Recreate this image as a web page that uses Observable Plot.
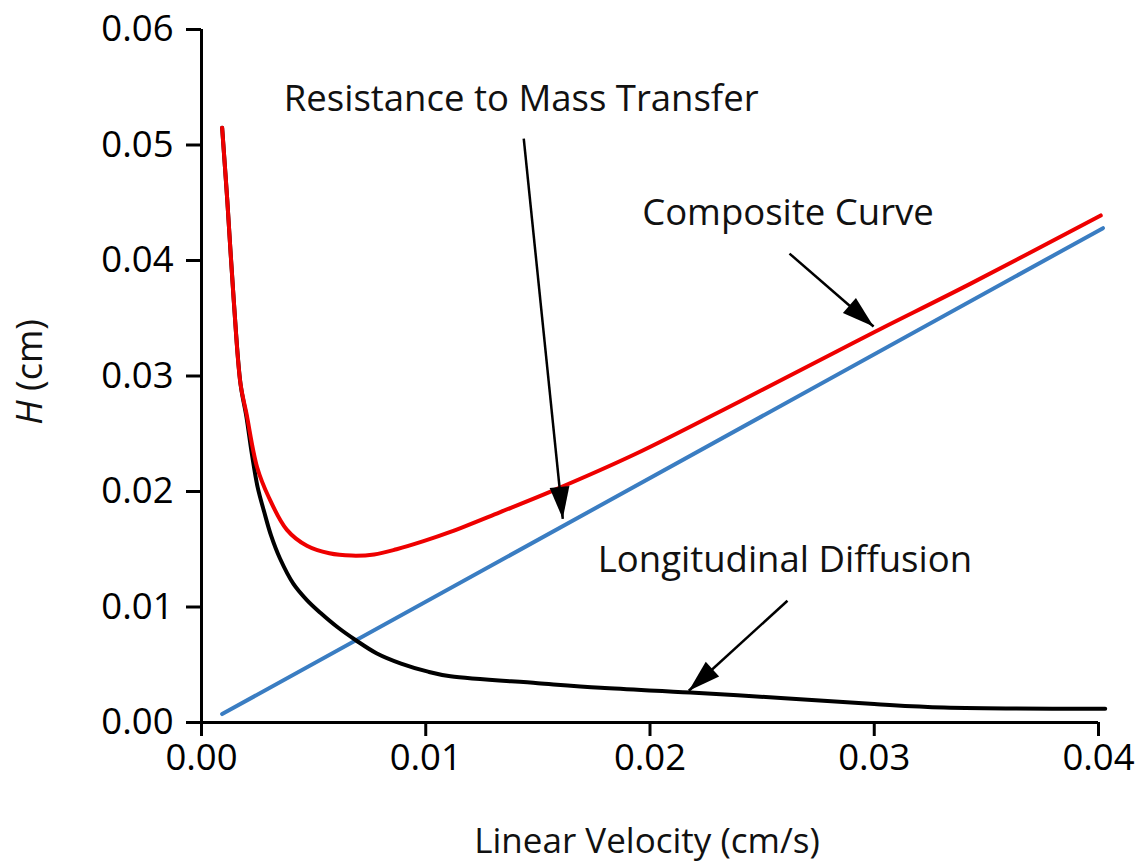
<!DOCTYPE html>
<html>
<head>
<meta charset="utf-8">
<script src="https://cdn.jsdelivr.net/npm/d3@7"></script>
<script src="https://cdn.jsdelivr.net/npm/@observablehq/plot@0.6"></script>
<style>
  html, body { margin: 0; padding: 0; background: #fff; }
  #chart { width: 1137px; height: 865px; }
</style>
</head>
<body>
<div id="chart"></div>
<script>
// ---- Data ----
// Mass-transfer resistance term (straight line, blue)
const massVel = [0.00092, 0.0402];
const massH   = [0.00073, 0.0428];

// Longitudinal diffusion term (black)
const diffVel = [0.00092, 0.00115, 0.00144, 0.00174, 0.0020, 0.00225, 0.0025, 0.0028, 0.0031, 0.0035, 0.0041, 0.0047, 0.0053, 0.0061, 0.0069, 0.0078, 0.0089, 0.0101, 0.0111, 0.0150, 0.0178, 0.0218, 0.0260, 0.0300, 0.0331, 0.0403];
const diffH   = [0.0515, 0.0452, 0.0365, 0.0293, 0.0265, 0.0232, 0.0204, 0.0182, 0.0162, 0.0142, 0.0120, 0.0106, 0.0095, 0.0082, 0.0071, 0.0060, 0.0051, 0.0044, 0.0040, 0.0034, 0.0030, 0.0026, 0.0021, 0.0016, 0.0013, 0.0012];

// Composite curve (red)
const compVel = [0.00092, 0.00115, 0.00144, 0.00174, 0.0020, 0.00248, 0.0030, 0.0038, 0.0047, 0.0057, 0.0067, 0.0077, 0.0087, 0.0099, 0.0111, 0.0133, 0.0157, 0.0193, 0.0240, 0.0280, 0.0301, 0.0343, 0.0401];
const compH   = [0.0515, 0.0452, 0.0365, 0.0293, 0.0268, 0.0221, 0.0195, 0.0167, 0.0153, 0.01465, 0.01445, 0.01455, 0.0150, 0.0157, 0.0165, 0.0182, 0.0201, 0.0232, 0.0278, 0.0318, 0.0339, 0.0380, 0.0439];

// Tick values
const xTicks = [0, 0.01, 0.02, 0.03, 0.04];
const yTicks = [0, 0.01, 0.02, 0.03, 0.04, 0.05, 0.06];

// Annotation labels and their anchor (data units)
const labelText = ["Resistance to Mass Transfer", "Composite Curve", "Longitudinal Diffusion"];
const labelVel  = [0.00367, 0.01965, 0.01767];
const labelH    = [0.05395, 0.04410, 0.01400];

// Annotation arrows (tail -> tip, data units)
const arrowVel1 = [0.01437, 0.02622, 0.02613];
const arrowH1   = [0.05056, 0.04060, 0.01054];
const arrowVel2 = [0.01611, 0.02997, 0.02173];
const arrowH2   = [0.01764, 0.03428, 0.00275];

// ---- Build tables ----
const toRows = (xs, ys) => xs.map((x, i) => ({x, y: ys[i]}));
const mass = toRows(massVel, massH);
const diff = toRows(diffVel, diffH);
const comp = toRows(compVel, compH);
const labels = labelText.map((t, i) => ({t, x: labelVel[i], y: labelH[i]}));

const W = 1137, H = 865;
const mL = 201, mR = 39, mT = 29, mB = 143;
const xDom = [0, 0.04], yDom = [0, 0.06];
const sx = d3.scaleLinear(xDom, [mL, W - mR]);
const sy = d3.scaleLinear(yDom, [H - mB, mT]);

const arrows = arrowVel1.map((x1, i) => {
  const x2 = arrowVel2[i], y1 = arrowH1[i], y2 = arrowH2[i];
  const dx = sx(x2) - sx(x1), dy = sy(y2) - sy(y1);
  return {x1, y1, x2, y2, angle: Math.atan2(dx, -dy) * 180 / Math.PI};
});

// Filled arrow head, tip at origin, pointing up before rotation
const arrowHead = {
  draw(context, size) {
    const r = Math.sqrt(size / Math.PI);
    const L = r * 2, w = r * 0.62;
    context.moveTo(0, 0);
    context.lineTo(-w, L);
    context.lineTo(w, L);
    context.closePath();
  }
};

const font = "'Open Sans', sans-serif";

const chart = Plot.plot({
  width: W, height: H,
  marginLeft: mL, marginRight: mR, marginTop: mT, marginBottom: mB,
  style: {fontFamily: font, background: "#fff", color: "#000"},
  x: {domain: xDom},
  y: {domain: yDom},
  marks: [
    Plot.axisX({ticks: xTicks, tickFormat: d3.format(".2f"), tickSize: 14, tickPadding: 8, strokeWidth: 3, fontSize: 36.5, label: null}),
    Plot.axisY({ticks: yTicks, tickFormat: d3.format(".2f"), tickSize: 15, tickPadding: 13, strokeWidth: 3, fontSize: 36.5, label: null}),
    Plot.ruleY([0], {x1: 0, x2: 0.04, stroke: "#000", strokeWidth: 3}),
    Plot.ruleX([0], {y1: 0, y2: 0.06, stroke: "#000", strokeWidth: 3}),
    Plot.line(mass, {x: "x", y: "y", stroke: "#3a7dc2", strokeWidth: 4}),
    Plot.line(diff, {x: "x", y: "y", stroke: "#000", strokeWidth: 4, curve: "catmull-rom"}),
    Plot.line(comp, {x: "x", y: "y", stroke: "#ee0000", strokeWidth: 4, curve: "catmull-rom"}),
    Plot.link(arrows, {x1: "x1", y1: "y1", x2: "x2", y2: "y2", stroke: "#000", strokeWidth: 2.5}),
    Plot.dot(arrows, {x: "x2", y: "y2", symbol: arrowHead, r: 16, rotate: "angle", fill: "#000", stroke: "none"}),
    Plot.text(labels, {x: "x", y: "y", text: "t", textAnchor: "start", fontSize: 36.5, fill: "#111"})
  ]
});

const svg = d3.select(chart);
// y-axis label with italic H
const yl = svg.append("text")
  .attr("transform", `translate(42,372) rotate(-90)`)
  .attr("text-anchor", "middle")
  .attr("font-family", font)
  .attr("font-size", 36)
  .attr("fill", "#111");
yl.append("tspan").attr("font-style", "italic").text("H");
yl.append("tspan").text(" (cm)");

// x-axis label
svg.append("text")
  .attr("x", 647).attr("y", 853)
  .attr("text-anchor", "middle")
  .attr("font-family", font)
  .attr("font-size", 35)
  .attr("fill", "#111")
  .text("Linear Velocity (cm/s)");

document.getElementById("chart").append(chart);
</script>
</body>
</html>
